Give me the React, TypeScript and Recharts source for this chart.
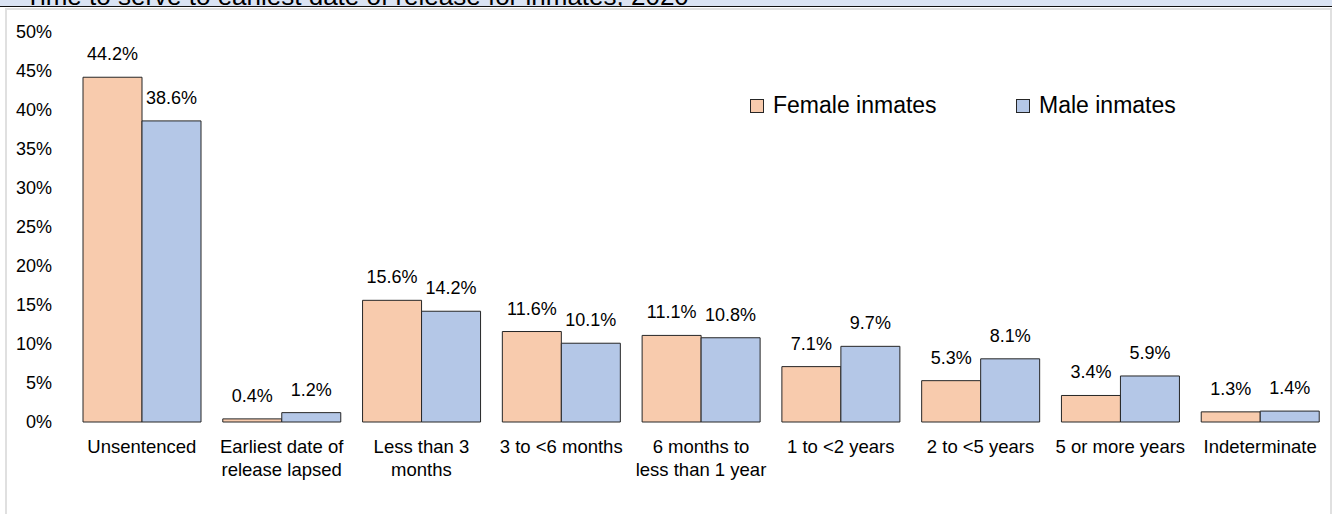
import React from "react";
import { BarChart, Bar, XAxis, YAxis, LabelList } from "recharts";

const titleText = "Time to serve to earliest date of release for inmates, 2020";

const categories = [
  "Unsentenced",
  "Earliest date of release lapsed",
  "Less than 3 months",
  "3 to <6 months",
  "6 months to less than 1 year",
  "1 to <2 years",
  "2 to <5 years",
  "5 or more years",
  "Indeterminate",
];

const categoryTickLines = [
  ["Unsentenced"],
  ["Earliest date of", "release lapsed"],
  ["Less than 3", "months"],
  ["3 to <6 months"],
  ["6 months to", "less than 1 year"],
  ["1 to <2 years"],
  ["2 to <5 years"],
  ["5 or more years"],
  ["Indeterminate"],
];

const femaleValues = [44.2, 0.4, 15.6, 11.6, 11.1, 7.1, 5.3, 3.4, 1.3];
const maleValues = [38.6, 1.2, 14.2, 10.1, 10.8, 9.7, 8.1, 5.9, 1.4];

const yTicks = [0, 5, 10, 15, 20, 25, 30, 35, 40, 45, 50];

const seriesNames = ["Female inmates", "Male inmates"];
const FEMALE_COLOR = "#f8cbad";
const MALE_COLOR = "#b4c7e7";
const FONT = '"Liberation Sans", Arial, sans-serif';

const data = categories.map((c, i) => ({
  category: c,
  female: femaleValues[i],
  male: maleValues[i],
}));

const CategoryTick = (props: any) => {
  const { x, y, payload } = props;
  const lines = categoryTickLines[payload.index] || [payload.value];
  return (
    <g>
      {lines.map((ln: string, k: number) => (
        <text
          key={k}
          x={x}
          y={y + 31 + k * 23}
          textAnchor="middle"
          fontSize={18.5}
          fontFamily={FONT}
          fill="#000"
        >
          {ln}
        </text>
      ))}
    </g>
  );
};

const LegendBox = ({ left, color, label }: any) => (
  <div
    style={{
      position: "absolute",
      left,
      top: 92,
      display: "flex",
      alignItems: "center",
      fontFamily: FONT,
      fontSize: 23,
      color: "#000",
      whiteSpace: "nowrap",
    }}
  >
    <div
      style={{
        width: 12,
        height: 12,
        background: color,
        border: "1px solid #262626",
        marginRight: 9,
      }}
    />
    <span>{label}</span>
  </div>
);

export default function App() {
  return (
    <div
      style={{
        position: "absolute",
        left: 0,
        top: 0,
        width: 1332,
        height: 514,
        background: "#fff",
        overflow: "hidden",
      }}
    >
      <div
        style={{
          position: "absolute",
          left: 0,
          top: 0,
          width: 1332,
          height: 6,
          background: "#dae3f3",
          borderBottom: "1.5px solid #111",
          overflow: "hidden",
        }}
      >
        <svg width={1332} height={6} style={{ display: "block" }}>
          <text x={25} y={5} fontSize={26} fontFamily={FONT} fill="#000">
            {titleText}
          </text>
        </svg>
      </div>
      <div
        style={{
          position: "absolute",
          left: 5,
          top: 8,
          width: 1323,
          height: 520,
          border: "2px solid #e0e0e0",
        }}
      />
      <div style={{ position: "absolute", left: 0, top: 0 }}>
        <BarChart
          width={1332}
          height={514}
          data={data}
          margin={{ top: 32, right: 2, bottom: 62, left: 0 }}
          barCategoryGap={11}
          barGap={0}
        >
          <XAxis
            dataKey="category"
            height={30}
            axisLine={false}
            tickLine={false}
            tickSize={0}
            tickMargin={0}
            interval={0}
            tick={<CategoryTick />}
          />
          <YAxis
            width={72}
            domain={[0, 50]}
            ticks={yTicks}
            axisLine={false}
            tickLine={false}
            tickSize={0}
            tickMargin={20}
            tickFormatter={(v: number) => `${v}%`}
            tick={{ fontSize: 18, fontFamily: FONT, fill: "#000" }}
          />
          <Bar
            dataKey="female"
            name={seriesNames[0]}
            fill={FEMALE_COLOR}
            stroke="#262626"
            strokeWidth={1}
            isAnimationActive={false}
          >
            <LabelList
              dataKey="female"
              position="top"
              offset={17}
              formatter={(v: number) => `${v.toFixed(1)}%`}
              style={{ fontSize: 18, fontFamily: FONT, fill: "#000" }}
            />
          </Bar>
          <Bar
            dataKey="male"
            name={seriesNames[1]}
            fill={MALE_COLOR}
            stroke="#262626"
            strokeWidth={1}
            isAnimationActive={false}
          >
            <LabelList
              dataKey="male"
              position="top"
              offset={17}
              formatter={(v: number) => `${v.toFixed(1)}%`}
              style={{ fontSize: 18, fontFamily: FONT, fill: "#000" }}
            />
          </Bar>
        </BarChart>
      </div>
      <LegendBox left={750} color={FEMALE_COLOR} label={seriesNames[0]} />
      <LegendBox left={1016} color={MALE_COLOR} label={seriesNames[1]} />
    </div>
  );
}
